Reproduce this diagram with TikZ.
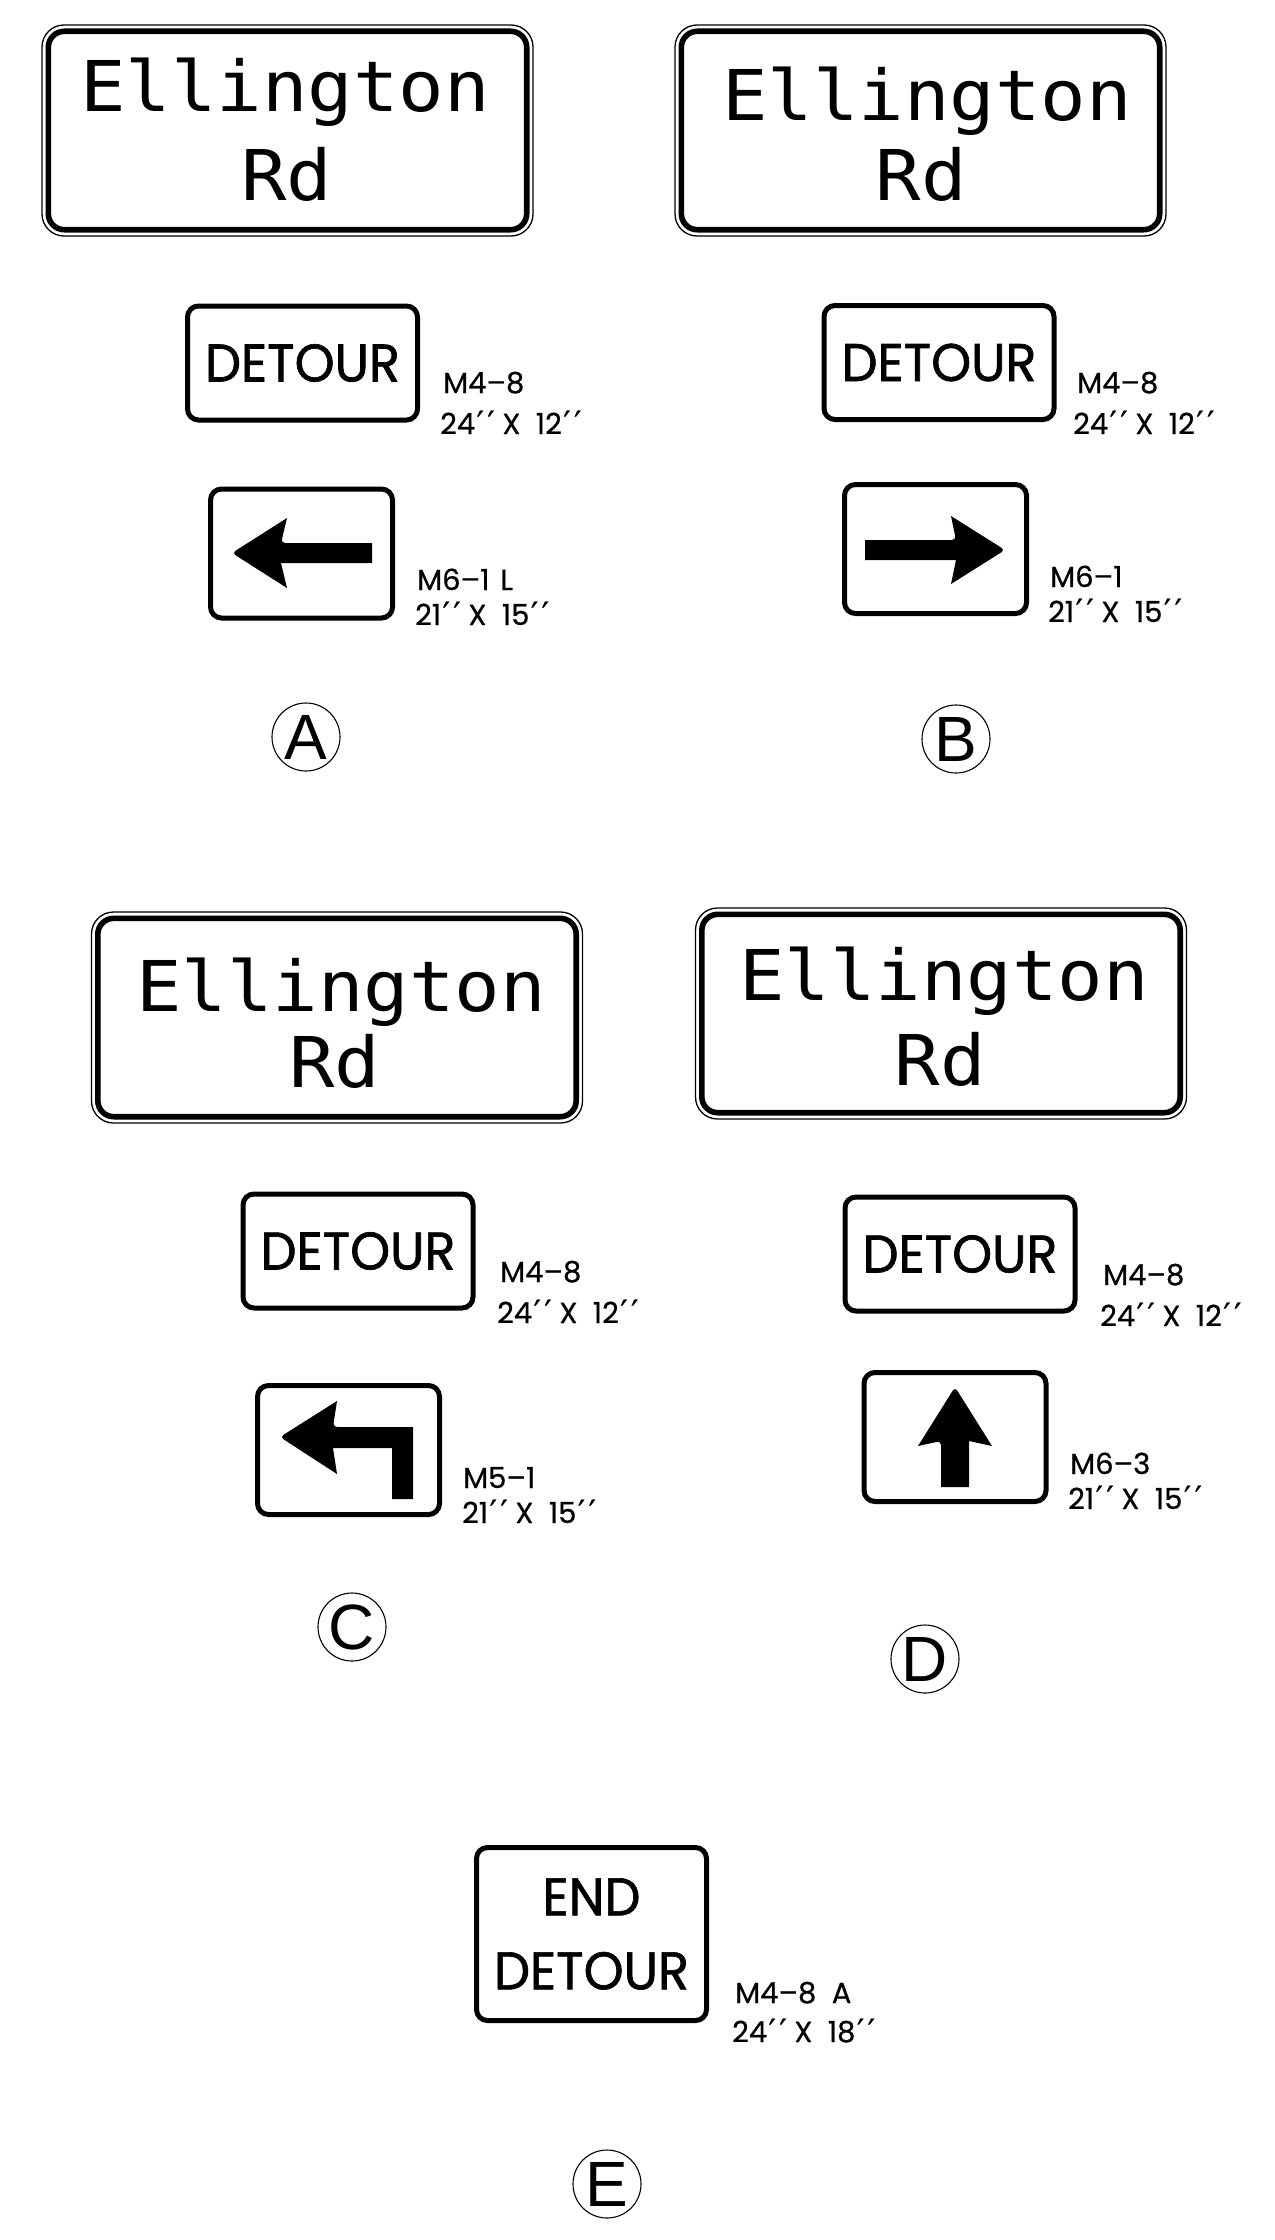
\documentclass[tikz,border=0pt]{standalone}
\usepackage{fontspec}
\newfontfamily\monof[FakeStretch=1.08]{DejaVu Sans Mono}
\newfontfamily\futf[FakeBold=0.6]{Poppins}
\newfontfamily\futb[FakeBold=1.2,FakeStretch=0.96]{Poppins}
\newfontfamily\helvf{Liberation Sans}
\newfontfamily\symf[FakeBold=0.6]{DejaVu Sans}
\newcommand\dbp{{\symf\fontsize{32}{32}\selectfont\kern1.5pt\char"2032\kern3.5pt\char"2032}}
\begin{document}
\begin{tikzpicture}[x=1pt,y=-1pt,
 rim/.style={draw, line width=1.3pt, rounded corners=22pt, minimum width=491pt, minimum height=211pt, inner sep=0pt, outer sep=0pt},
 band/.style={line width=5.6pt, rounded corners=16pt},
 plaque/.style={draw, line width=5pt, rounded corners=11pt, inner sep=0pt, outer sep=0pt, minimum width=230pt},
 street/.style={font=\monof\fontsize{70}{70}\selectfont, anchor=base, inner sep=0pt},
 legend/.style={font=\futb\fontsize{53}{74}\selectfont, align=center},
 code/.style={font=\futf\fontsize{29}{29}\selectfont, anchor=base west, inner sep=0pt},
 tag/.style={draw, circle, line width=1.1pt, minimum size=68pt, inner sep=0pt, font=\helvf\fontsize{64}{64}\selectfont},
 glyph/.style={fill=black}
]
\useasboundingbox (0,0) rectangle (1274,2240);

% ---------- A ----------
\node[rim] (eA) at (287.5,130.5) {};
\draw[band] ([shift={(6.3,6.3)}]eA.north west) rectangle ([shift={(-6.3,-6.3)}]eA.south east);
\node[street] (eA1) at (285,111) {Ellington};
\node[street] (eA2) at (287,200) {Rd};
\node[plaque, minimum height=114pt, legend] (dA) at (302.5,363) {DETOUR};
\node[code] (dA1) at (443,393) {M4–8};
\node[code] (dA2) at (440,434) {24\dbp\ X\ \ 12\dbp};
\node[plaque, minimum width=182pt, minimum height=129pt] (aA) at (301.5,553.5) {};
\fill[glyph] (372,543) -- (372,563) -- (281,563) -- (287,588) [rounded corners=4pt] -- (232,553) [sharp corners] -- (287,518) [rounded corners=4pt] -- (281,543) [sharp corners] -- cycle;
\node[code] (aA1) at (417,590) {M6–1\hspace{11pt}L};
\node[code] (aA2) at (415,625) {21\dbp\ X\ \ 15\dbp};
\node[tag] (cA) at (306,737) {A};

% ---------- B ----------
\node[rim] (eB) at (920.5,130.5) {};
\draw[band] ([shift={(6.3,6.3)}]eB.north west) rectangle ([shift={(-6.3,-6.3)}]eB.south east);
\node[street] (eB1) at (927,120) {Ellington};
\node[street] (eB2) at (921,200) {Rd};
\node[plaque, minimum height=114pt, legend] (dB) at (939,362.5) {DETOUR};
\node[code] (dB1) at (1077,393) {M4–8};
\node[code] (dB2) at (1073,434) {24\dbp\ X\ \ 12\dbp};
\node[plaque, minimum width=182pt, minimum height=129pt] (aB) at (935.5,549) {};
\fill[glyph] (865,540) -- (865,560) -- (956,560) -- (951,584) [rounded corners=4pt] -- (1005,550) [sharp corners] -- (951,516) [rounded corners=4pt] -- (956,540) [sharp corners] -- cycle;
\node[code] (aB1) at (1050,587) {M6–1};
\node[code] (aB2) at (1048,622) {21\dbp\ X\ \ 15\dbp};
\node[tag] (cB) at (956,739) {B};

% ---------- C ----------
\node[rim] (eC) at (337,1017.5) {};
\draw[band] ([shift={(6.3,6.3)}]eC.north west) rectangle ([shift={(-6.3,-6.3)}]eC.south east);
\node[street] (eC1) at (341,1011) {Ellington};
\node[street] (eC2) at (335,1087) {Rd};
\node[plaque, minimum height=114pt, legend] (dC) at (358,1251) {DETOUR};
\node[code] (dC1) at (500,1282) {M4–8};
\node[code] (dC2) at (497,1323) {24\dbp\ X\ \ 12\dbp};
\node[plaque, minimum width=182pt, minimum height=129pt] (aC) at (348.5,1450) {};
\fill[glyph] (413,1427) -- (413,1499) -- (392,1499) -- (392,1448) -- (333,1448) -- (337,1474) [rounded corners=4pt] -- (280,1437) [sharp corners] -- (337,1401) [rounded corners=4pt] -- (333,1427) [sharp corners] -- cycle;
\node[code] (aC1) at (463,1488) {M5–1};
\node[code] (aC2) at (462,1523) {21\dbp\ X\ \ 15\dbp};
\node[tag] (cC) at (352,1627) {C};

% ---------- D ----------
\node[rim] (eD) at (941,1013.5) {};
\draw[band] ([shift={(6.3,6.3)}]eD.north west) rectangle ([shift={(-6.3,-6.3)}]eD.south east);
\node[street] (eD1) at (944,1000) {Ellington};
\node[street] (eD2) at (940,1085) {Rd};
\node[plaque, minimum height=114pt, legend] (dD) at (960,1254) {DETOUR};
\node[code] (dD1) at (1103,1285) {M4–8};
\node[code] (dD2) at (1100,1326) {24\dbp\ X\ \ 12\dbp};
\node[plaque, minimum width=182pt, minimum height=129pt] (aD) at (955,1437) {};
\fill[glyph] (941,1487) -- (969,1487) -- (969,1441) -- (992,1446) [rounded corners=4pt] -- (955,1387) [sharp corners] -- (918,1446) [rounded corners=4pt] -- (941,1441) [sharp corners] -- cycle;
\node[code] (aD1) at (1070,1474) {M6–3};
\node[code] (aD2) at (1068,1509) {21\dbp\ X\ \ 15\dbp};
\node[tag] (cD) at (925,1659) {D};

% ---------- E ----------
\node[plaque, minimum height=173pt, legend] (dE) at (591.5,1934) {END\\DETOUR};
\node[code] (dE1) at (735,2003) {M4–8\ \ A};
\node[code] (dE2) at (732,2042) {24\dbp\ X\ \ 18\dbp};
\node[tag] (cE) at (607,2184) {E};
\end{tikzpicture}
\end{document}
